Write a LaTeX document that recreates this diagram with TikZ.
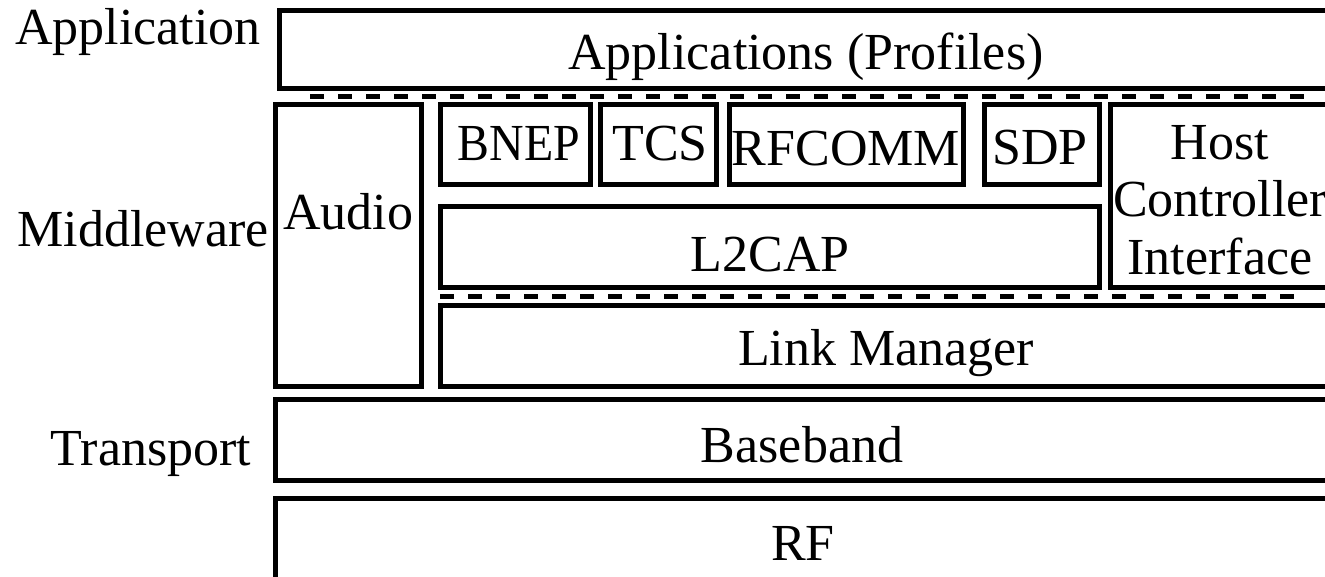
\documentclass[tikz,border=0pt]{standalone}
\usepackage{fontspec}
\setmainfont{Liberation Serif}
\begin{document}
\begin{tikzpicture}[x=1pt,y=-1pt,
  box/.style={draw, line width=5pt},
  lbl/.style={anchor=base, inner sep=0pt, font=\fontsize{52}{57}\selectfont},
  sep/.style={line width=4.5pt, dash pattern=on 14pt off 14pt}]
\useasboundingbox (0,0) rectangle (1325,577);
\clip (0,0) rectangle (1325,577);
% boxes
\draw[box] (279,10.8) rectangle (1345,89);      % applications
\draw[box] (275,104.5) rectangle (421.5,386.5); % audio
\draw[box] (440.5,105) rectangle (590,185);     % BNEP
\draw[box] (600.5,105) rectangle (716.5,185);   % TCS
\draw[box] (729.5,105) rectangle (963.5,185);   % RFCOMM
\draw[box] (984,105) rectangle (1099,185);      % SDP
\draw[box] (1110.5,104.5) rectangle (1345,287.5); % HCI
\draw[box] (440.5,207) rectangle (1099,287.5);  % L2CAP
\draw[box] (440,305.5) rectangle (1345,386.5);  % Link Manager
\draw[box] (275,399) rectangle (1345,480);      % Baseband
\draw[box] (275,498) rectangle (1345,579);      % RF
% separators
\coordinate (s1a) at (310,96.7);
\coordinate (s1b) at (1305,96.7);
\coordinate (s2a) at (440,296.7);
\coordinate (s2b) at (1297,296.7);
\draw[sep] (s1a) -- (s1b);
\draw[sep] (s2a) -- (s2b);
% labels
\node[lbl] (lapp) at (138,45) {Application};
\node[lbl] (lmid) at (143,247) {Middleware};
\node[lbl] (ltra) at (151,465) {Transport};
\node[lbl] (apps) at (806,70) {Applications (Profiles)};
\node[lbl, xscale=0.92] (bnep) at (519,161) {BNEP};
\node[lbl] (tcs) at (660,161) {TCS};
\node[lbl] (rfcomm) at (846,166) {RFCOMM};
\node[lbl] (sdp) at (1040,165) {SDP};
\node[lbl] (hciA) at (1220,160) {Host};
\node[lbl] (hciB) at (1220,217) {Controller};
\node[lbl] (hciC) at (1220,275) {Interface};
\node[lbl] (l2cap) at (770,272) {L2CAP};
\node[lbl] (audio) at (348,230) {Audio};
\node[lbl] (lm) at (886,365) {Link Manager};
\node[lbl] (bb) at (802,462) {Baseband};
\node[lbl] (rf) at (803,560) {RF};
\end{tikzpicture}
\end{document}
